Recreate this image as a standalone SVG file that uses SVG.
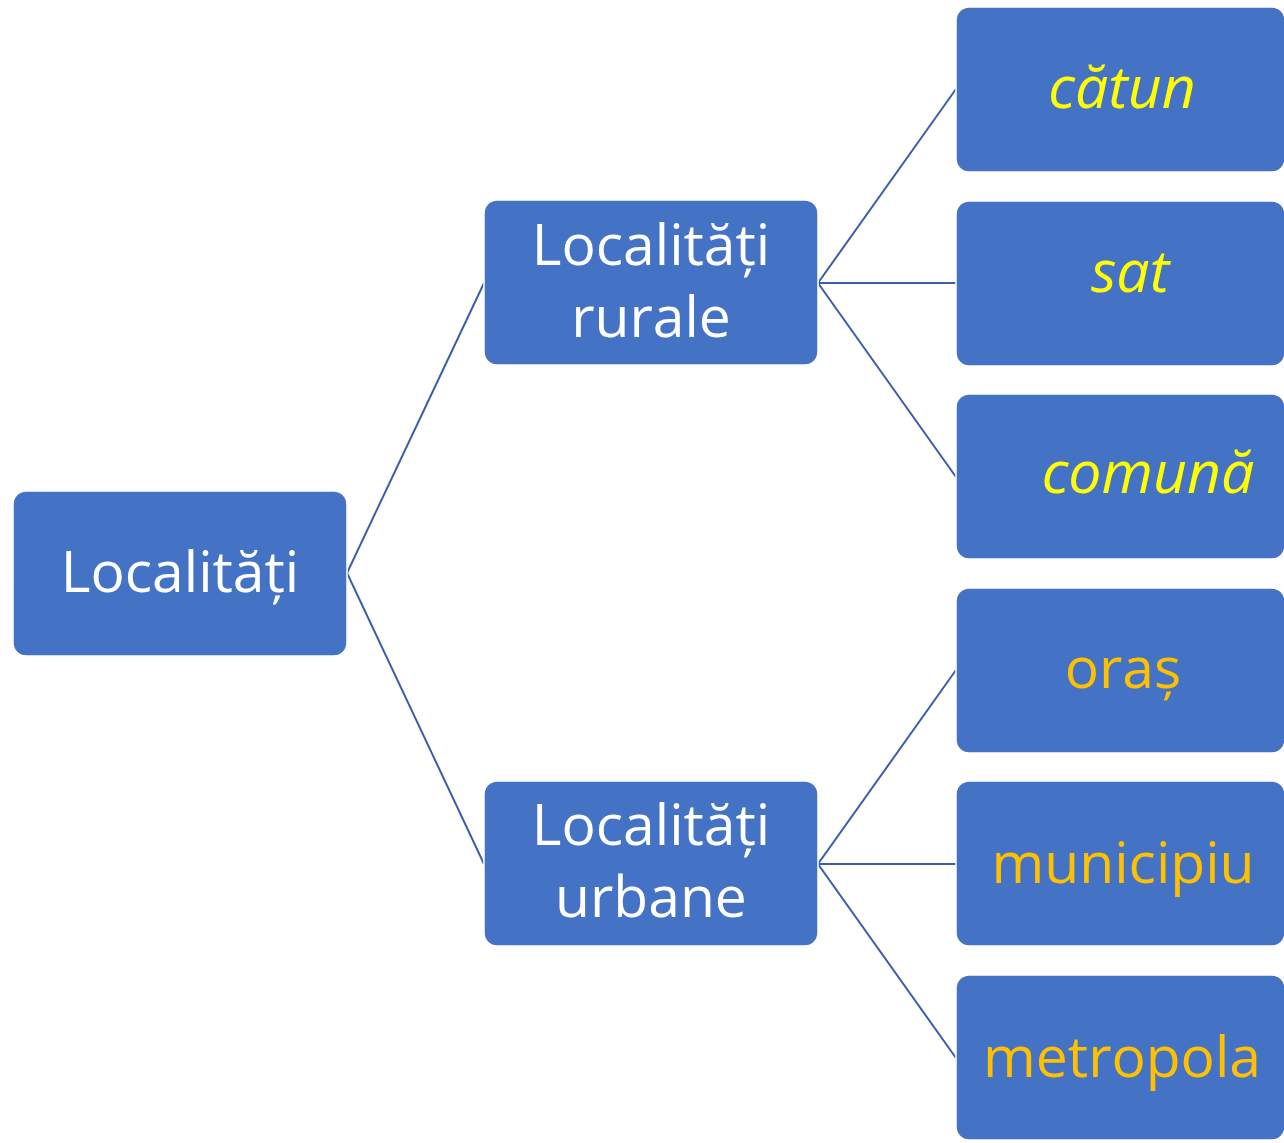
<svg xmlns="http://www.w3.org/2000/svg" width="1284" height="1143" viewBox="0 0 1284 1143">
<style>
.box{fill:#4472C4;stroke:#ffffff;stroke-width:1.5}
.t{font-family:"Open Sans","Noto Sans",sans-serif;font-size:57px;text-anchor:middle}
.w{fill:#ffffff}
.y{fill:#FFFF00;font-style:italic;font-size:59px}
.o{fill:#FFC000}
.c{fill:none;stroke:#3A5FA8;stroke-width:2}
</style>
<rect width="1284" height="1143" fill="#ffffff"/>
<g id="connectors">
<polyline class="c" points="484,283 347,573 484,864"/>
<polyline class="c" points="956,89 818,283 956,477"/>
<line class="c" x1="818" y1="283" x2="956" y2="283"/>
<polyline class="c" points="956,670 818,864 956,1058"/>
<line class="c" x1="818" y1="864" x2="956" y2="864"/>
</g>
<g id="root">
<rect class="box" x="13" y="491" width="334" height="165" rx="13"/>
<text class="t w" x="180" y="592">Localități</text>
</g>
<g id="rurale">
<rect class="box" x="484" y="200" width="334" height="165" rx="13"/>
<text class="t w" x="651" y="265">Localități</text>
<text class="t w" x="651" y="337">rurale</text>
</g>
<g id="urbane">
<rect class="box" x="484" y="781" width="334" height="165" rx="13"/>
<text class="t w" x="651" y="845">Localități</text>
<text class="t w" x="651" y="917">urbane</text>
</g>
<g id="catun">
<rect class="box" x="956" y="7" width="329" height="165" rx="13"/>
<text class="t y" x="1122" y="108">cătun</text>
</g>
<g id="sat">
<rect class="box" x="956" y="201" width="329" height="165" rx="13"/>
<text class="t y" x="1130" y="292">sat</text>
</g>
<g id="comuna">
<rect class="box" x="956" y="394" width="329" height="165" rx="13"/>
<text class="t y" x="1148" y="493">comună</text>
</g>
<g id="oras">
<rect class="box" x="956" y="588" width="329" height="165" rx="13"/>
<text class="t o" x="1123" y="688">oraș</text>
</g>
<g id="municipiu">
<rect class="box" x="956" y="781" width="329" height="165" rx="13"/>
<text class="t o" x="1123" y="883">municipiu</text>
</g>
<g id="metropola">
<rect class="box" x="956" y="975" width="329" height="165" rx="13"/>
<text class="t o" x="1122" y="1077">metropola</text>
</g>
</svg>
